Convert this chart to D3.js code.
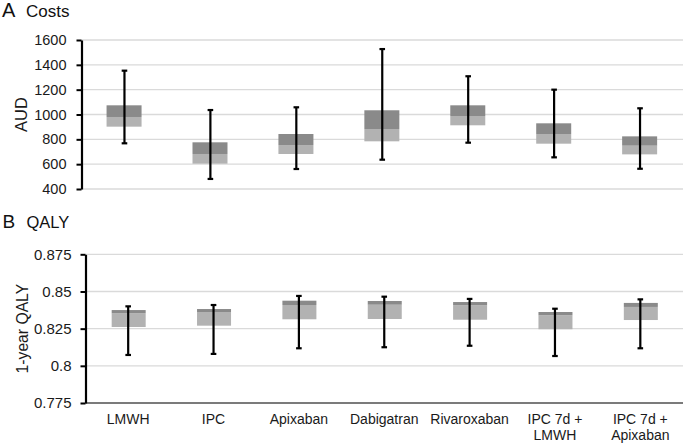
<!DOCTYPE html>
<html>
<head>
<meta charset="utf-8">
<script src="https://cdn.jsdelivr.net/npm/d3@7"></script>
<style>
  html, body { margin: 0; padding: 0; background: #fff; }
  svg { display: block; font-family: "Liberation Sans", Arial, sans-serif; }
</style>
</head>
<body>
<svg id="chart" width="685" height="445"></svg>
<script>
// ---- Data ----
const categories = [["LMWH"], ["IPC"], ["Apixaban"], ["Dabigatran"], ["Rivaroxaban"], ["IPC 7d +", "LMWH"], ["IPC 7d +", "Apixaban"]];

const costBoxLow      = [902, 604, 682, 784, 913, 765, 679];
const costBoxMid      = [980, 682, 754, 883, 988, 843, 749];
const costBoxHigh     = [1074, 776, 843, 1034, 1074, 929, 824];
const costWhiskerLow  = [768, 481, 561, 636, 773, 655, 563];
const costWhiskerHigh = [1353, 1036, 1058, 1527, 1308, 1200, 1050];
const costTicks = [400, 600, 800, 1000, 1200, 1400, 1600];
const costTickLabels = ["400", "600", "800", "1000", "1200", "1400", "1600"];

const qalyBoxLow      = [0.8261, 0.8270, 0.8313, 0.8315, 0.8310, 0.8246, 0.8308];
const qalyBoxMid      = [0.8353, 0.8362, 0.8409, 0.8411, 0.8407, 0.8340, 0.8396];
const qalyBoxHigh     = [0.8375, 0.8382, 0.8438, 0.8436, 0.8429, 0.8362, 0.8423];
const qalyWhiskerLow  = [0.8073, 0.8080, 0.8118, 0.8125, 0.8135, 0.8066, 0.8118];
const qalyWhiskerHigh = [0.8400, 0.8409, 0.8470, 0.8465, 0.8450, 0.8384, 0.8447];
const qalyTicks = [0.775, 0.8, 0.825, 0.85, 0.875];
const qalyTickLabels = ["0.775", "0.8", "0.825", "0.85", "0.875"];

// ---- Drawing ----
const svg = d3.select("#chart");
const keys = categories.map((c, i) => "c" + i);
const DARK = "#8a8a8a", LIGHT = "#b2b2b2", GRID = "#dadada";

function panel(opts) {
  const g = svg.append("g");
  const x = d3.scaleBand().domain(keys).range(opts.xRange).paddingInner(0).paddingOuter(0);
  const y = d3.scaleLinear().domain(opts.domain).range(opts.yRange);

  // gridlines
  g.append("g").selectAll("line").data(opts.ticks).join("line")
    .attr("x1", opts.xRange[0]).attr("x2", opts.xRange[1])
    .attr("y1", d => y(d)).attr("y2", d => y(d))
    .attr("stroke", GRID).attr("stroke-width", 1.3);

  if (opts.xAxisLine) {
    g.append("line")
      .attr("x1", opts.xRange[0]).attr("x2", opts.xRange[1])
      .attr("y1", y(opts.domain[0])).attr("y2", y(opts.domain[0]))
      .attr("stroke", "#595959").attr("stroke-width", 1.3);
  }

  const bw = opts.boxWidth;
  const data = keys.map((k, i) => ({
    k, lo: opts.boxLow[i], mid: opts.boxMid[i], hi: opts.boxHigh[i],
    wl: opts.wLow[i], wh: opts.wHigh[i]
  }));
  const cx = d => x(d.k) + x.bandwidth() / 2 + opts.boxShift;

  g.append("g").selectAll("rect").data(data).join("rect")
    .attr("x", d => cx(d) - bw / 2).attr("width", bw)
    .attr("y", d => y(d.mid)).attr("height", d => y(d.lo) - y(d.mid))
    .attr("fill", LIGHT);
  g.append("g").selectAll("rect").data(data).join("rect")
    .attr("x", d => cx(d) - bw / 2).attr("width", bw)
    .attr("y", d => y(d.hi)).attr("height", d => y(d.mid) - y(d.hi))
    .attr("fill", DARK);

  // whiskers
  const wcx = d => x(d.k) + x.bandwidth() / 2;
  const wg = g.append("g").attr("stroke", "#000").attr("stroke-width", 2.2);
  wg.selectAll(".v").data(data).join("line").attr("class", "v")
    .attr("x1", wcx).attr("x2", wcx).attr("y1", d => y(d.wh)).attr("y2", d => y(d.wl));
  wg.selectAll(".t").data(data).join("line").attr("class", "t")
    .attr("x1", d => wcx(d) - 2.8).attr("x2", d => wcx(d) + 2.8)
    .attr("y1", d => y(d.wh)).attr("y2", d => y(d.wh));
  wg.selectAll(".b").data(data).join("line").attr("class", "b")
    .attr("x1", d => wcx(d) - 2.8).attr("x2", d => wcx(d) + 2.8)
    .attr("y1", d => y(d.wl)).attr("y2", d => y(d.wl));

  // y axis
  const axis = d3.axisLeft(y).tickValues(opts.ticks)
    .tickFormat((d, i) => opts.tickLabels[i])
    .tickSize(5).tickSizeOuter(0).tickPadding(opts.tickPadding);
  const ag = g.append("g").attr("transform", `translate(${opts.xRange[0]},0)`).call(axis);
  ag.select(".domain").attr("stroke", "#000").attr("stroke-width", 2.2);
  ag.selectAll(".tick line").attr("stroke", "#000").attr("stroke-width", 2);
  ag.selectAll(".tick text").attr("fill", "#1a1a1a")
    .style("font-size", opts.tickFont + "px").style("font-family", '"Liberation Sans", Arial, sans-serif');

  // y label
  g.append("text")
    .attr("transform", `translate(${opts.yLabelX},${(opts.yRange[0] + opts.yRange[1]) / 2}) rotate(-90)`)
    .attr("text-anchor", "middle").attr("fill", "#1a1a1a")
    .style("font-size", opts.yLabelFont + "px")
    .text(opts.yLabel);

  return { x, y };
}

// Panel A
svg.append("text").attr("x", 2).attr("y", 17).style("font-size", "20px").attr("fill", "#111").text("A");
svg.append("text").attr("x", 26).attr("y", 17.3).style("font-size", "17px").attr("fill", "#111").text("Costs");

panel({
  xRange: [81.5, 683], yRange: [189, 40], domain: [400, 1600],
  ticks: costTicks, tickLabels: costTickLabels,
  boxLow: costBoxLow, boxMid: costBoxMid, boxHigh: costBoxHigh,
  wLow: costWhiskerLow, wHigh: costWhiskerHigh,
  boxWidth: 35, boxShift: -0.4, tickPadding: 10, tickFont: 14.5,
  yLabel: "AUD", yLabelX: 26.5, yLabelFont: 16.5, xAxisLine: false
});

// Panel B
svg.append("text").attr("x", 2.5).attr("y", 228.3).style("font-size", "19px").attr("fill", "#111").text("B");
svg.append("text").attr("x", 26.5).attr("y", 228.3).style("font-size", "16.5px").attr("fill", "#111").text("QALY");

const pB = panel({
  xRange: [85.5, 683], yRange: [403, 254.3], domain: [0.775, 0.875],
  ticks: qalyTicks, tickLabels: qalyTickLabels,
  boxLow: qalyBoxLow, boxMid: qalyBoxMid, boxHigh: qalyBoxHigh,
  wLow: qalyWhiskerLow, wHigh: qalyWhiskerHigh,
  boxWidth: 34, boxShift: 0.5, tickPadding: 9, tickFont: 15,
  yLabel: "1-year QALY", yLabelX: 28.3, yLabelFont: 15.7, xAxisLine: true
});

// category labels
const lab = svg.append("g").selectAll("text").data(categories).join("text")
  .attr("text-anchor", "middle").attr("fill", "#1a1a1a").style("font-size", "14px")
  .attr("transform", (d, i) => `translate(${pB.x(keys[i]) + pB.x.bandwidth() / 2},424)`);
lab.selectAll("tspan").data(d => d).join("tspan")
  .attr("x", 0).attr("y", (d, j) => j * 16).text(d => d);
</script>
</body>
</html>
